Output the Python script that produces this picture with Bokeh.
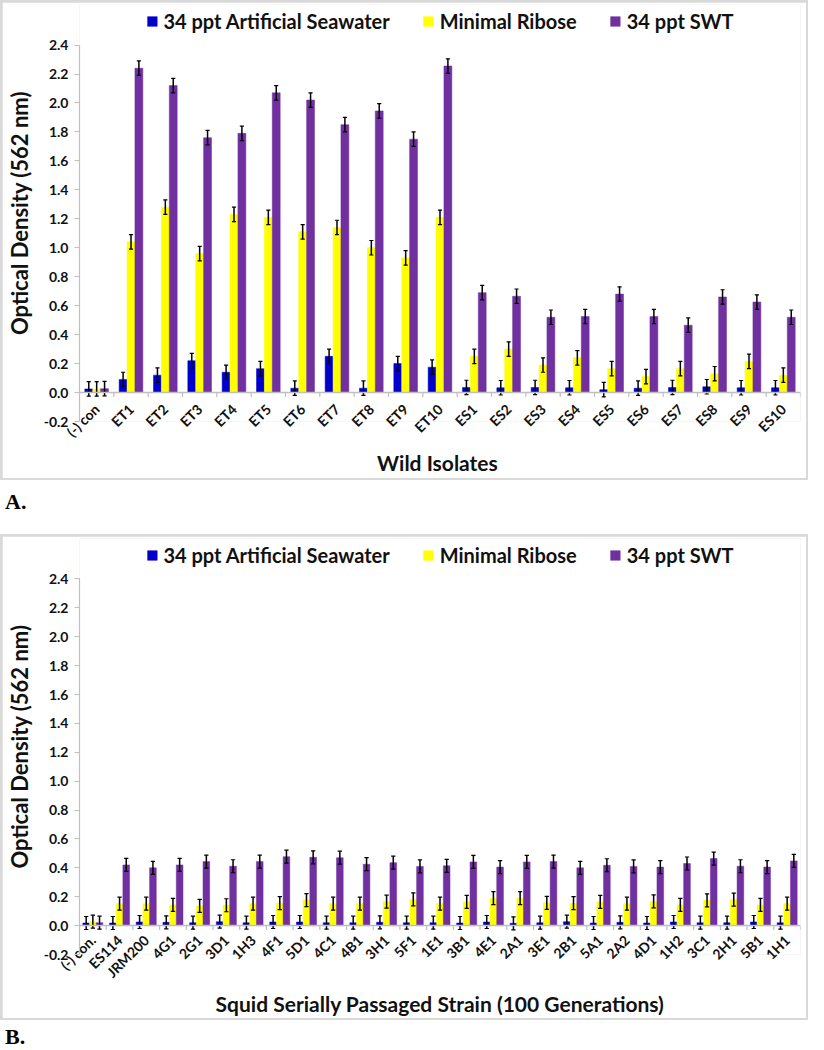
import math
from bokeh.plotting import figure
from bokeh.models import (ColumnDataSource, Legend, LegendItem, FixedTicker,
                          PrintfTickFormatter, Span, Div, FactorRange, Range1d)
from bokeh.transform import dodge
from bokeh.layouts import column
from bokeh.embed import file_html
from bokeh.resources import INLINE

series_names = ["34 ppt Artificial Seawater", "Minimal Ribose", "34 ppt SWT"]
series_colors = ["#0000CC", "#FFFF00", "#7030A0"]
y_ticks = [-0.2, 0.0, 0.2, 0.4, 0.6, 0.8, 1.0, 1.2, 1.4, 1.6, 1.8, 2.0, 2.2, 2.4]

# ---- Panel A: Wild isolates ----
a_categories = ["(-) con", "ET1", "ET2", "ET3", "ET4", "ET5", "ET6", "ET7", "ET8", "ET9", "ET10",
                "ES1", "ES2", "ES3", "ES4", "ES5", "ES6", "ES7", "ES8", "ES9", "ES10"]
a_asw = [0.025, 0.09, 0.12, 0.22, 0.14, 0.165, 0.03, 0.25, 0.03, 0.20, 0.175,
         0.035, 0.033, 0.035, 0.033, 0.02, 0.03, 0.035, 0.04, 0.033, 0.033]
a_ribose = [0.025, 1.04, 1.28, 0.96, 1.23, 1.21, 1.11, 1.14, 1.00, 0.93, 1.21,
            0.25, 0.30, 0.19, 0.24, 0.165, 0.11, 0.165, 0.13, 0.215, 0.12]
a_swt = [0.027, 2.24, 2.12, 1.76, 1.79, 2.07, 2.02, 1.85, 1.945, 1.75, 2.255,
         0.69, 0.665, 0.52, 0.525, 0.68, 0.525, 0.465, 0.66, 0.625, 0.52]
a_asw_err = [0.05] * 21
a_ribose_err = [0.05] * 21
a_swt_err = [0.05] * 21
a_xlabel = "Wild  Isolates"

# ---- Panel B: Squid serially passaged strains ----
b_categories = ["(-) con.", "ES114", "JRM200", "4G1", "2G1", "3D1", "1H3", "4F1", "5D1", "4C1",
                "4B1", "3H1", "5F1", "1E1", "3B1", "4E1", "2A1", "3E1", "2B1", "5A1",
                "2A2", "4D1", "1H2", "3C1", "2H1", "5B1", "1H1"]
b_asw = [0.018, 0.018, 0.025, 0.023, 0.02, 0.027, 0.02, 0.025, 0.025, 0.02,
         0.02, 0.023, 0.02, 0.02, 0.018, 0.025, 0.016, 0.02, 0.027, 0.018,
         0.023, 0.018, 0.025, 0.02, 0.02, 0.025, 0.02]
b_ribose = [0.027, 0.152, 0.152, 0.143, 0.136, 0.141, 0.152, 0.155, 0.177, 0.152,
            0.152, 0.166, 0.182, 0.152, 0.164, 0.19, 0.19, 0.157, 0.155, 0.164,
            0.152, 0.168, 0.143, 0.175, 0.18, 0.143, 0.152]
b_swt = [0.02, 0.42, 0.40, 0.42, 0.443, 0.411, 0.443, 0.477, 0.473, 0.47,
         0.425, 0.436, 0.41, 0.414, 0.441, 0.405, 0.441, 0.443, 0.40, 0.418,
         0.41, 0.405, 0.43, 0.464, 0.411, 0.405, 0.448]
b_asw_err = [0.045] * 27
b_ribose_err = [0.045] * 27
b_swt_err = [0.045] * 27
b_xlabel = "Squid Serially Passaged Strain (100 Generations)"

FONT = "Lato"
W = 804


def make_panel(categories, series, errors, xlabel, height, bw, cap, label_standoff):
    p = figure(x_range=FactorRange(*categories), y_range=Range1d(-0.2, 2.68),
               width=W, height=height, output_backend="svg", toolbar_location=None,
               min_border_left=74, min_border_right=6, min_border_top=2, min_border_bottom=0)
    p.margin = (2, 2, 2, 2)
    p.outline_line_color = None
    p.xgrid.visible = False
    p.ygrid.visible = False

    items = []
    for i, (vals, errs) in enumerate(zip(series, errors)):
        off = (i - 1) * bw
        src = ColumnDataSource(dict(cat=categories, top=vals,
                                    lo=[v - e for v, e in zip(vals, errs)],
                                    hi=[v + e for v, e in zip(vals, errs)]))
        r = p.vbar(x=dodge("cat", off, range=p.x_range), top="top", bottom=0, width=bw,
                   source=src, fill_color=series_colors[i], line_color=series_colors[i],
                   line_width=0.5)
        items.append(LegendItem(label=series_names[i], renderers=[r]))
        p.segment(x0=dodge("cat", off, range=p.x_range), y0="lo",
                  x1=dodge("cat", off, range=p.x_range), y1="hi",
                  source=src, line_color="black", line_width=1.5)
        for key in ("lo", "hi"):
            p.segment(x0=dodge("cat", off - cap, range=p.x_range), y0=key,
                      x1=dodge("cat", off + cap, range=p.x_range), y1=key,
                      source=src, line_color="black", line_width=1.2)

    # zero line and category boundary ticks
    p.add_layout(Span(location=0, dimension="width", line_color="#BFBFBF", line_width=1.5))
    tsrc = ColumnDataSource(dict(cat=categories, y0=[0.0] * len(categories),
                                 y1=[-0.03] * len(categories)))
    p.segment(x0=dodge("cat", -0.5, range=p.x_range), y0="y0",
              x1=dodge("cat", -0.5, range=p.x_range), y1="y1",
              source=tsrc, line_color="#BFBFBF", line_width=1.2)
    lsrc = ColumnDataSource(dict(cat=categories[-1:], y0=[0.0], y1=[-0.03]))
    p.segment(x0=dodge("cat", 0.5, range=p.x_range), y0="y0",
              x1=dodge("cat", 0.5, range=p.x_range), y1="y1",
              source=lsrc, line_color="#BFBFBF", line_width=1.2)

    legend = Legend(items=items, orientation="horizontal", location="top_center",
                    label_text_font=FONT, label_text_font_style="bold",
                    label_text_font_size="20px", label_text_color="#111111",
                    glyph_width=12, glyph_height=12, label_standoff=6, spacing=32,
                    padding=0, margin=5, border_line_color=None,
                    background_fill_alpha=0)
    p.add_layout(legend)

    ya = p.yaxis[0]
    ya.ticker = FixedTicker(ticks=y_ticks)
    ya.bounds = (-0.2, 2.4)
    ya.formatter = PrintfTickFormatter(format="%.1f")
    ya.axis_line_color = "#BFBFBF"
    ya.axis_line_width = 1.2
    ya.major_tick_line_color = "#BFBFBF"
    ya.major_tick_out = 5
    ya.major_tick_in = 0
    ya.minor_tick_line_color = None
    ya.major_label_text_font = FONT
    ya.major_label_text_font_style = "bold"
    ya.major_label_text_font_size = "14px"
    ya.major_label_text_color = "#111111"
    ya.major_label_standoff = 6
    ya.axis_label = "Optical Density (562 nm)"
    ya.axis_label_text_font = FONT
    ya.axis_label_text_font_style = "bold"
    ya.axis_label_text_font_size = "22px"
    ya.axis_label_text_color = "#111111"
    ya.axis_label_standoff = 8

    xa = p.xaxis[0]
    xa.axis_line_color = None
    xa.major_tick_line_color = None
    xa.major_tick_out = 0
    xa.major_tick_in = 0
    xa.minor_tick_line_color = None
    xa.minor_tick_out = 0
    xa.major_label_orientation = math.pi / 4
    xa.major_label_text_font = FONT
    xa.major_label_text_font_style = "bold"
    xa.major_label_text_font_size = "14px"
    xa.major_label_text_color = "#111111"
    xa.major_label_standoff = label_standoff
    xa.axis_label = xlabel
    xa.axis_label_text_font = FONT
    xa.axis_label_text_font_style = "bold"
    xa.axis_label_text_font_size = "21px"
    xa.axis_label_text_color = "#111111"
    xa.axis_label_standoff = 1
    return p


pa = make_panel(a_categories, [a_asw, a_ribose, a_swt], [a_asw_err, a_ribose_err, a_swt_err],
                a_xlabel, 476, 0.23, 0.06, -15)
pb = make_panel(b_categories, [b_asw, b_ribose, b_swt], [b_asw_err, b_ribose_err, b_swt_err],
                b_xlabel, 482, 0.25, 0.08, -17)

box_a = column(pa, styles={"background-color": "#D9D9D9"})
box_b = column(pb, styles={"background-color": "#D9D9D9"})

lab_style = ("font-family:'Liberation Serif';font-weight:bold;font-size:22px;"
             "line-height:22px;color:#000;")
da = Div(text=f'<div style="{lab_style}margin-top:6px">A.</div>', width=W, height=44)
db = Div(text=f'<div style="{lab_style}margin-top:1px">B.</div>', width=W, height=24)

layout = column(box_a, da, box_b, db, spacing=0)
open("out.html", "w").write(file_html(layout, INLINE))
